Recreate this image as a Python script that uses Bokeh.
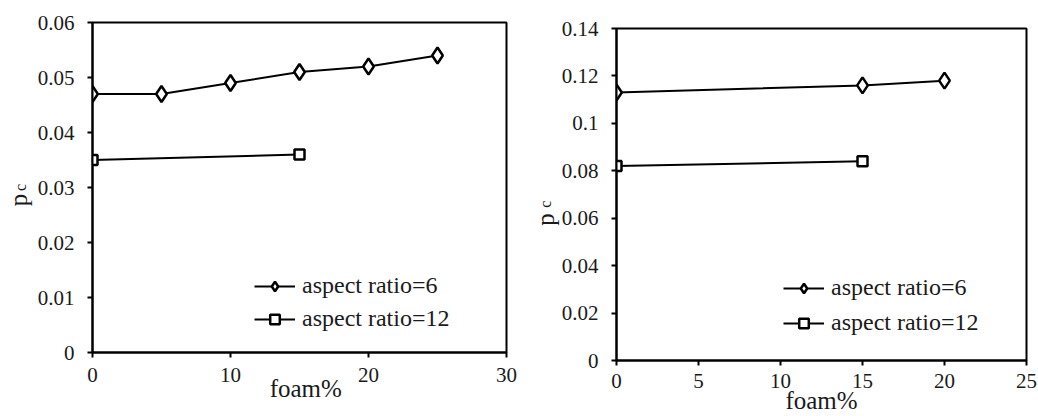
from bokeh.plotting import figure
from bokeh.layouts import row, column
from bokeh.models import FixedTicker, Legend, LegendItem, LinearAxis
from bokeh.embed import file_html
from bokeh.resources import INLINE

# ---- data: left panel ----
left_x6 = [0, 5, 10, 15, 20, 25]
left_y6 = [0.047, 0.047, 0.049, 0.051, 0.052, 0.054]
left_x12 = [0, 15]
left_y12 = [0.035, 0.036]
left_xticks = [0, 10, 20, 30]
left_yticks = [0, 0.01, 0.02, 0.03, 0.04, 0.05, 0.06]
left_ylabels = ["0", "0.01", "0.02", "0.03", "0.04", "0.05", "0.06"]

# ---- data: right panel ----
right_x6 = [0, 15, 20]
right_y6 = [0.113, 0.116, 0.118]
right_x12 = [0, 15]
right_y12 = [0.082, 0.084]
right_xticks = [0, 5, 10, 15, 20, 25]
right_yticks = [0, 0.02, 0.04, 0.06, 0.08, 0.1, 0.12, 0.14]
right_ylabels = ["0", "0.02", "0.04", "0.06", "0.08", "0.1", "0.12", "0.14"]

series_names = ["aspect ratio=6", "aspect ratio=12"]
x_label = "foam%"
y_label = "p"
y_sub = "c"

FONT = "Liberation Serif"
TXT = "#1a1a1a"
EM, EN, THIN = "\u2003", "\u2002", "\u2009"


def make_panel(x6, y6, x12, y12, xticks, yticks, ylabels, xmax, ymax,
               borders, frame, xtick_standoff, xlab_text, xlab_standoff,
               ytick_standoff, sub_text, sub_standoff, p_text, p_standoff,
               legend_loc, legend_spacing):
    bl, br, bt, bb = borders
    fw, fh = frame
    p = figure(frame_width=fw, frame_height=fh,
               min_border_left=bl, min_border_right=br,
               min_border_top=bt, min_border_bottom=bb,
               x_range=(0, xmax), y_range=(0, ymax),
               output_backend="svg", toolbar_location=None,
               background_fill_color="white", border_fill_color="white")
    p.grid.visible = False
    p.outline_line_color = "black"
    p.outline_line_width = 2

    for ax in (p.xaxis[0], p.yaxis[0]):
        ax.axis_line_color = "black"
        ax.axis_line_width = 2
        ax.major_tick_line_color = "black"
        ax.major_tick_line_width = 2
        ax.major_tick_in = 0
        ax.major_tick_out = 5
        ax.minor_tick_line_color = None
        ax.major_label_text_font = FONT
        ax.major_label_text_font_size = "21px"
        ax.major_label_text_color = TXT
        ax.axis_label_text_font = FONT
        ax.axis_label_text_font_size = "25px"
        ax.axis_label_text_font_style = "normal"
        ax.axis_label_text_color = TXT

    xa = p.xaxis[0]
    xa.ticker = FixedTicker(ticks=xticks)
    xa.major_label_standoff = xtick_standoff
    xa.axis_label = xlab_text
    xa.axis_label_standoff = xlab_standoff

    # main y axis: ticks, tick labels and the subscript "c" of the label
    ya = p.yaxis[0]
    ya.ticker = FixedTicker(ticks=yticks)
    ya.major_label_overrides = {t: s for t, s in zip(yticks, ylabels)}
    ya.major_label_standoff = ytick_standoff
    ya.axis_label = sub_text
    ya.axis_label_text_font_size = "16px"
    ya.axis_label_standoff = sub_standoff

    # outer bare axis carrying the main letter "p"
    pa = LinearAxis(axis_label=p_text, ticker=FixedTicker(ticks=[]),
                    axis_line_color=None, major_tick_line_color=None,
                    minor_tick_line_color=None, major_label_text_font_size="0px",
                    axis_label_text_font=FONT, axis_label_text_font_size="25px",
                    axis_label_text_font_style="normal", axis_label_text_color=TXT,
                    axis_label_standoff=p_standoff)
    p.add_layout(pa, "left")

    l6 = p.line(x6, y6, line_color="black", line_width=2)
    m6 = p.scatter(x6, y6, marker="diamond", size=16, line_color="black",
                   line_width=2.5, fill_color="white")
    l12 = p.line(x12, y12, line_color="black", line_width=2)
    m12 = p.scatter(x12, y12, marker="square", size=10, line_color="black",
                    line_width=2.5, fill_color="white")

    legend = Legend(items=[LegendItem(label=series_names[0], renderers=[l6, m6]),
                           LegendItem(label=series_names[1], renderers=[l12, m12])],
                    location=legend_loc, orientation="vertical",
                    border_line_color=None, background_fill_alpha=0,
                    padding=0, margin=0, spacing=legend_spacing,
                    glyph_width=41, glyph_height=24, label_height=24,
                    label_standoff=7,
                    label_text_font=FONT, label_text_font_size="24px",
                    label_text_color=TXT)
    p.add_layout(legend, "center")
    return p


p1 = make_panel(left_x6, left_y6, left_x12, left_y12, left_xticks, left_yticks,
                left_ylabels, 30, 0.06,
                borders=(92, 14, 22, 64), frame=(414, 330),
                xtick_standoff=10, xlab_text=EN + x_label, xlab_standoff=-10,
                ytick_standoff=13, sub_text=y_sub, sub_standoff=6,
                p_text=y_label + EM, p_standoff=-23,
                legend_loc=(162, 20), legend_spacing=6)
p2 = make_panel(right_x6, right_y6, right_x12, right_y12, right_xticks, right_yticks,
                right_ylabels, 25, 0.14,
                borders=(96, 12, 28, 56), frame=(410, 332),
                xtick_standoff=8, xlab_text=x_label, xlab_standoff=-4,
                ytick_standoff=13, sub_text=y_sub + EM + THIN, sub_standoff=5,
                p_text=y_label + EM + EM, p_standoff=-25,
                legend_loc=(167, 24), legend_spacing=8)

layout = row(column(p1), column(p2), spacing=0)
open("out.html", "w").write(file_html(layout, INLINE))
